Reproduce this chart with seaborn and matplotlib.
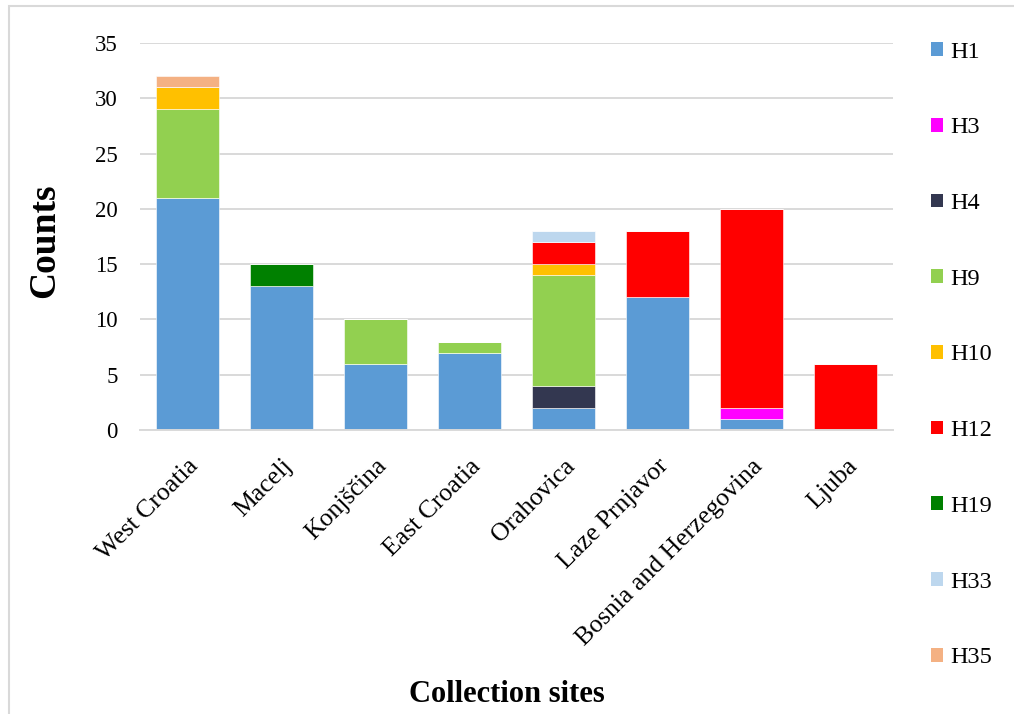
import matplotlib
matplotlib.use("Agg")
import matplotlib.pyplot as plt
from matplotlib.patches import Patch, Rectangle
import pandas as pd
import seaborn as sns

sites = ["West Croatia", "Macelj", "Konjščina", "East Croatia", "Orahovica",
         "Laze Prnjavor", "Bosnia and Herzegovina", "Ljuba"]
haplotypes = ["H1", "H3", "H4", "H9", "H10", "H12", "H19", "H33", "H35"]

# counts per haplotype, one value per site (same order as `sites`)
h1 = [21, 13, 6, 7, 2, 12, 1, 0]
h3 = [0, 0, 0, 0, 0, 0, 1, 0]
h4 = [0, 0, 0, 0, 2, 0, 0, 0]
h9 = [8, 0, 4, 1, 10, 0, 0, 0]
h10 = [2, 0, 0, 0, 1, 0, 0, 0]
h12 = [0, 0, 0, 0, 2, 6, 18, 6]
h19 = [0, 2, 0, 0, 0, 0, 0, 0]
h33 = [0, 0, 0, 0, 1, 0, 0, 0]
h35 = [1, 0, 0, 0, 0, 0, 0, 0]

colors = ["#5b9bd5", "#ff00ff", "#333750", "#92d050", "#ffc000",
          "#ff0000", "#008000", "#bdd7ee", "#f4b183"]

series = [h1, h3, h4, h9, h10, h12, h19, h33, h35]
rows = []
for hap, vals in zip(haplotypes, series):
    for site, v in zip(sites, vals):
        rows.append({"site": site, "haplotype": hap, "count": v})
df = pd.DataFrame(rows)
palette = dict(zip(haplotypes, colors))

sns.set_theme(style="white")
plt.rcParams["font.family"] = ["Liberation Serif", "DejaVu Serif"]
plt.rcParams.update({"text.color": "black", "axes.labelcolor": "black",
                     "xtick.color": "black", "ytick.color": "black"})

fig = plt.figure(figsize=(10.14, 7.14), dpi=100)
ax = fig.add_axes([140 / 1014, 1 - 430 / 714, 753 / 1014, 387 / 714])

sns.histplot(data=df, x="site", weights="count", hue="haplotype",
             hue_order=haplotypes[::-1], palette=palette, multiple="stack",
             discrete=True, shrink=0.67, alpha=1, linewidth=0.4,
             edgecolor="white", legend=False, ax=ax)

ax.set_xlim(-0.5, len(sites) - 0.5)
ax.set_ylim(0, 35)
ax.set_yticks(range(0, 36, 5))
ax.yaxis.grid(True, color="#d9d9d9", linewidth=1.4)
ax.set_axisbelow(True)
for side in ["top", "right", "left"]:
    ax.spines[side].set_visible(False)
ax.spines["bottom"].set_color("#d9d9d9")
ax.spines["bottom"].set_linewidth(1.4)
ax.tick_params(axis="y", length=0, labelsize=16.5, pad=16)
ax.tick_params(axis="x", length=0, labelsize=18.5, pad=18)
ax.set_xticks(range(len(sites)))
ax.set_xticklabels(sites, rotation=45, ha="right", rotation_mode="anchor")

ax.set_ylabel("Counts", fontsize=27, fontweight="bold")
ax.yaxis.set_label_coords(-0.104, 0.49)
ax.set_xlabel("Collection sites", fontsize=22, fontweight="bold")
ax.xaxis.set_label_coords(0.487, -0.645)

handles = [Patch(facecolor=c, edgecolor="none") for c in colors]
fig.legend(handles, haplotypes, loc="upper left",
           bbox_to_anchor=(921 / 1014, 1 - 32 / 714), frameon=False,
           fontsize=17.5, handlelength=0.5, handleheight=0.5,
           handletextpad=0.3, labelspacing=2.25, borderaxespad=0)

# thin light frame around the chart area
fig.patches.append(Rectangle((9 / 1014, -0.1), 1.2, 1 - 6 / 714 + 0.1,
                             transform=fig.transFigure, fill=False,
                             edgecolor="#d9d9d9", linewidth=1.5))

fig.savefig("out.png", dpi=100)
